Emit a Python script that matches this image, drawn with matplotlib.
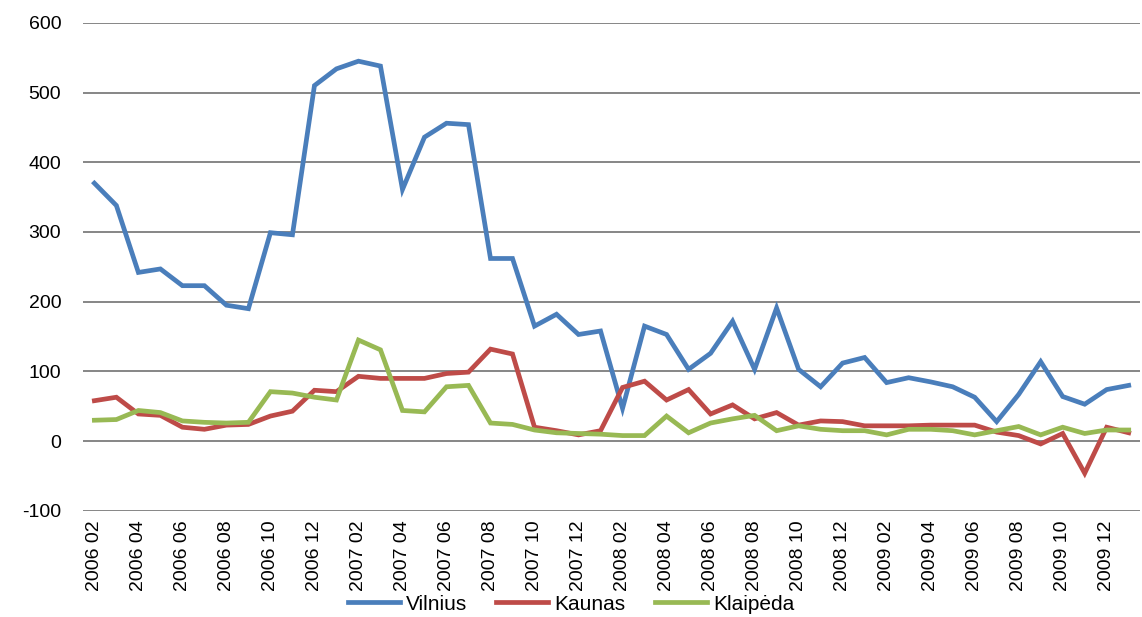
import matplotlib.pyplot as plt
import numpy as np

# Monthly values, 2006 02 .. 2010 01
months = []
for year in range(2006, 2011):
  for m in range(1, 13):
    if (year == 2006 and m < 2) or (year == 2010 and m > 1):
      continue
    months.append('{} {:02d}'.format(year, m))

vilnius = [370, 338, 242, 247, 223, 223, 195, 190, 299, 296, 510, 534,
           545, 538, 361, 436, 456, 454, 262, 262, 165, 182, 153, 158,
           47, 165, 153, 103, 126, 172, 103, 191, 103, 78, 112, 120,
           84, 91, 85, 78, 63, 28, 67, 114, 64, 53, 74, 80]
kaunas = [58, 63, 39, 37, 20, 17, 23, 24, 36, 43, 73, 71,
          93, 90, 90, 90, 97, 99, 132, 125, 20, 15, 9, 15,
          77, 86, 59, 74, 39, 52, 32, 41, 23, 29, 28, 22,
          22, 22, 23, 23, 23, 13, 8, -4, 11, -46, 20, 12]
klaipeda = [30, 31, 44, 41, 29, 27, 26, 27, 71, 69, 63, 59,
            145, 131, 44, 42, 78, 80, 26, 24, 16, 12, 11, 10,
            8, 8, 36, 12, 26, 32, 37, 15, 22, 17, 15, 15,
            9, 17, 17, 15, 9, 15, 21, 9, 20, 11, 16, 16]

series = [('Vilnius', vilnius, '#4A7EBB'),
          ('Kaunas', kaunas, '#BE4B48'),
          ('Klaipėda', klaipeda, '#98B954')]


def main():
  plt.rcParams['font.family'] = ['Liberation Sans', 'DejaVu Sans']
  plt.rcParams['axes.unicode_minus'] = False
  fig = plt.figure(figsize=(11.42, 6.17), dpi=100)
  ax = fig.add_axes([0.073, 0.172, 0.925, 0.791])

  x = np.arange(len(months))
  for name, values, color in series:
    ax.plot(x, values, color=color, linewidth=3.4, label=name,
            solid_joinstyle='miter')

  ax.set_xlim(-0.5, len(months) - 0.5)
  ax.set_ylim(-100, 600)
  ax.set_yticks(range(-100, 601, 100))
  ax.set_xticks(x[::2])
  ax.set_xticklabels(months[::2], rotation=90, fontsize=14)
  ax.tick_params(axis='y', labelsize=14, length=0, pad=16)
  ax.tick_params(axis='x', length=0, pad=7)
  ax.grid(axis='y', color='#868686', linewidth=1.4)
  ax.set_axisbelow(True)
  for s in ax.spines.values():
    s.set_visible(False)

  fig.legend(loc='center', bbox_to_anchor=(0.5, 0.021), ncol=3,
             frameon=False, fontsize=15, handlelength=2.5,
             columnspacing=1.4, handletextpad=0.3, borderpad=0)
  fig.savefig('out.png', dpi=100)


if __name__ == '__main__':
  main()
